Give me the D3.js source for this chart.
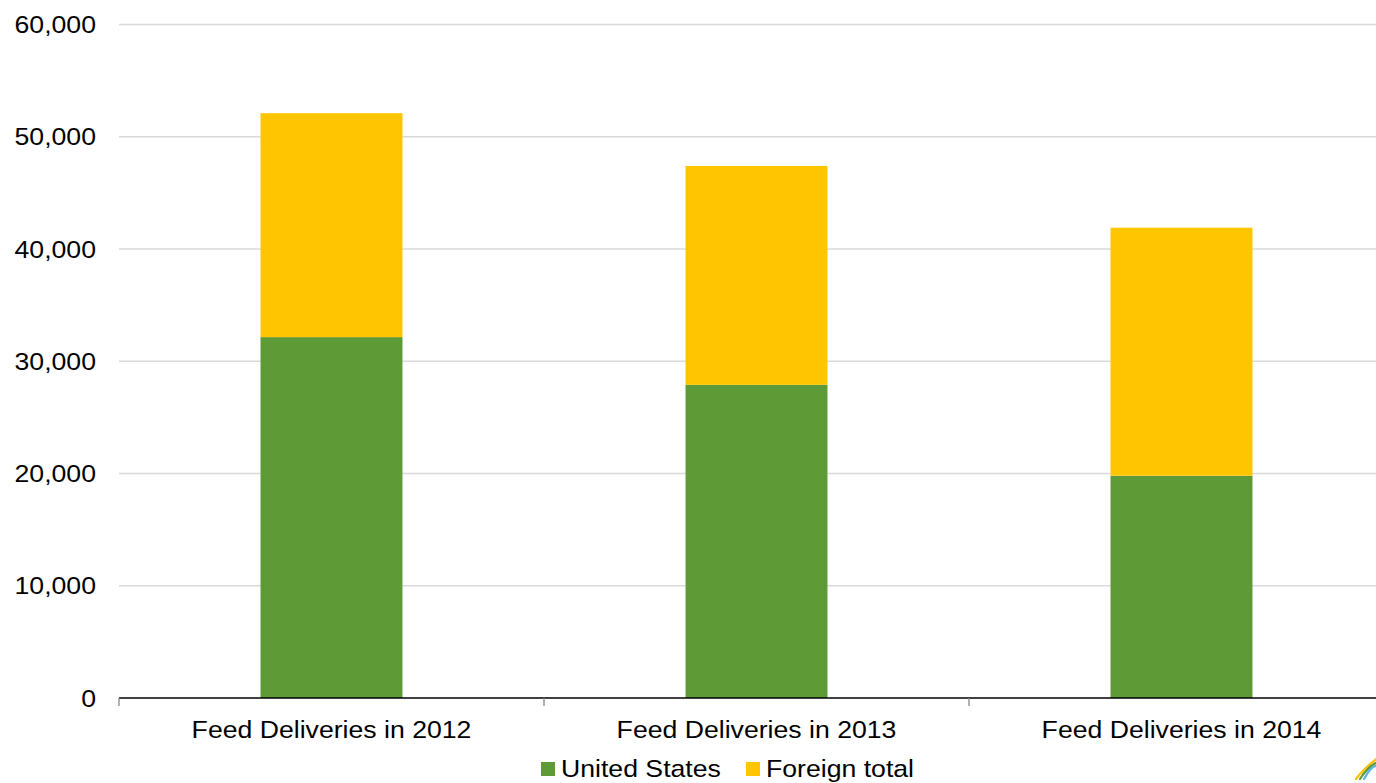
<!DOCTYPE html>
<html>
<head>
<meta charset="utf-8">
<script src="https://cdn.jsdelivr.net/npm/d3@7"></script>
<style>
  html, body { margin: 0; padding: 0; background: #ffffff; }
  svg { display: block; font-family: "Liberation Sans", Arial, sans-serif; }
</style>
</head>
<body>
<svg id="chart" width="1376" height="783"></svg>
<script>
const categories = ["Feed Deliveries in 2012", "Feed Deliveries in 2013", "Feed Deliveries in 2014"];
const seriesNames = ["United States", "Foreign total"];
const unitedStates = [32150, 27900, 19800];
const foreignTotal = [19950, 19500, 22100];
const yTicks = [0, 10000, 20000, 30000, 40000, 50000, 60000];
const colors = ["#5E9A35", "#FFC600"];

(function () {
const svg = d3.select("#chart");
const plotLeft = 119, plotRight = 1394, plotTop = 24.5, plotBottom = 698;
const sx = 1.11; // horizontal stretch of text as seen in the reference

const x = d3.scaleBand().domain(categories).range([plotLeft, plotRight]).padding(0);
const y = d3.scaleLinear().domain([0, 60000]).range([plotBottom, plotTop]);

// gridlines
svg.append("g").selectAll("line").data(yTicks.filter(d => d > 0)).join("line")
  .attr("x1", plotLeft).attr("x2", 1376)
  .attr("y1", d => y(d)).attr("y2", d => y(d))
  .attr("stroke", "#d9d9d9").attr("stroke-width", 1.5);

// y labels
svg.append("g").selectAll("text").data(yTicks).join("text")
  .attr("transform", d => `translate(96,${y(d)}) scale(${sx},1)`)
  .attr("dy", "0.36em")
  .attr("text-anchor", "end")
  .attr("font-size", 24)
  .attr("fill", "#000")
  .text(d => d3.format(",")(d));

// stacked data
const rows = categories.map((c, i) => ({ cat: c, "United States": unitedStates[i], "Foreign total": foreignTotal[i] }));
const stack = d3.stack().keys(seriesNames)(rows);
const barW = x.bandwidth() * 0.334;

svg.append("g").selectAll("g").data(stack).join("g")
  .attr("fill", (d, i) => colors[i])
  .selectAll("rect").data(d => d).join("rect")
  .attr("x", d => x(d.data.cat) + (x.bandwidth() - barW) / 2)
  .attr("width", barW)
  .attr("y", d => y(d[1]))
  .attr("height", d => y(d[0]) - y(d[1]));

// x axis
const xAxis = svg.append("g").attr("transform", `translate(0,${plotBottom})`);
xAxis.append("line").attr("x1", plotLeft).attr("x2", 1376).attr("y1", 0).attr("y2", 0)
  .attr("stroke", "#000").attr("stroke-width", 1.3);
const tickPos = categories.map(c => x(c)).concat([x(categories[categories.length - 1]) + x.bandwidth()]);
xAxis.selectAll("line.tick").data(tickPos).join("line").attr("class", "tick")
  .attr("x1", d => d).attr("x2", d => d).attr("y1", 0).attr("y2", 8)
  .attr("stroke", "#888").attr("stroke-width", 1.3);
xAxis.selectAll("text").data(categories).join("text")
  .attr("transform", d => `translate(${x(d) + x.bandwidth() / 2},40) scale(${sx},1)`)
  .attr("text-anchor", "middle")
  .attr("font-size", 24)
  .attr("fill", "#000")
  .text(d => d);

// legend
const legend = svg.append("g");
const legendItems = [{ name: seriesNames[0], color: colors[0], x: 541 }, { name: seriesNames[1], color: colors[1], x: 746 }];
const li = legend.selectAll("g").data(legendItems).join("g").attr("transform", d => `translate(${d.x},0)`);
li.append("rect").attr("x", 0).attr("y", 762).attr("width", 14).attr("height", 14).attr("fill", d => d.color);
li.append("text").attr("transform", `translate(20,777) scale(${sx},1)`).attr("font-size", 24).attr("fill", "#000").text(d => d.name);

// small logo swoosh at bottom right
const logo = svg.append("g").attr("fill", "none").attr("stroke-width", 2.2).attr("stroke-linecap", "round");
[["#FFC000", 0], ["#5E9A35", 4], ["#5BB4E5", 8]].forEach(([c, o]) => {
  logo.append("path").attr("d", `M${1356 + o},${779} Q${1364 + o},${768 - o/2} ${1378},${758 + o}`).attr("stroke", c);
});
})();
</script>
</body>
</html>
